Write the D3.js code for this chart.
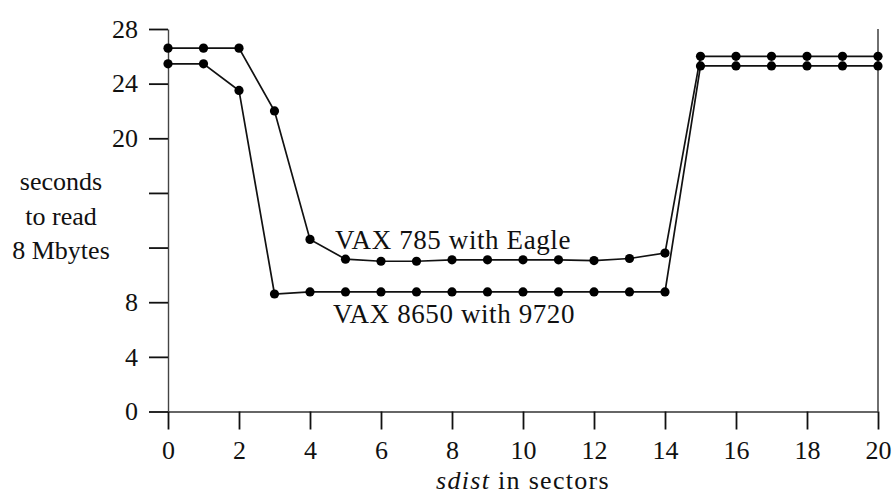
<!DOCTYPE html>
<html><head><meta charset="utf-8">
<script src="https://cdn.jsdelivr.net/npm/d3@7"></script>
<style>body{margin:0;background:#fff}svg{display:block}</style>
</head><body>
<svg id="c" width="895" height="498" font-family="Liberation Serif, serif"></svg>
<script>
const sdist = [0,1,2,3,4,5,6,7,8,9,10,11,12,13,14,15,16,17,18,19,20];
const eagle = [26.6,26.6,26.6,22.0,12.6,11.15,11.0,11.0,11.1,11.1,11.1,11.1,11.05,11.2,11.6,26.0,26.0,26.0,26.0,26.0,26.0];
const vax8650 = [25.45,25.45,23.5,8.6,8.75,8.75,8.75,8.75,8.75,8.75,8.75,8.75,8.75,8.75,8.75,25.3,25.3,25.3,25.3,25.3,25.3];
const xTicks = [0,2,4,6,8,10,12,14,16,18,20];
const yTicks = [0,4,8,12,16,20,24,28];
const yLabels = {0:"0",4:"4",8:"8",20:"20",24:"24",28:"28"};
const seriesNames = ["VAX 785 with Eagle","VAX 8650 with 9720"];
const yTitle = ["seconds","to read","8 Mbytes"];
const FONT = "Liberation Serif";

const svg = d3.select("#c");
const x = d3.scaleLinear().domain([0,20]).range([168,878]);
const y = d3.scaleLinear().domain([0,28]).range([411.5,29]);

const ax = svg.append("g").attr("transform","translate(0,411.5)")
  .call(d3.axisBottom(x).tickValues(xTicks).tickSizeInner(18).tickSizeOuter(0).tickPadding(11));
ax.attr("font-family",FONT).attr("font-size",26);
ax.select(".domain").attr("stroke","#333").attr("stroke-width",1.6);
ax.selectAll(".tick line").attr("stroke","#111").attr("stroke-width",1.8);
ax.selectAll(".tick text").attr("fill","#111");

const ay = svg.append("g").attr("transform","translate(168,0)")
  .call(d3.axisLeft(y).tickValues(yTicks).tickFormat(d=>yLabels[d]||"").tickSizeInner(19).tickSizeOuter(0).tickPadding(11));
ay.attr("font-family",FONT).attr("font-size",26);
ay.select(".domain").attr("stroke","#444").attr("stroke-width",1.4);
ay.selectAll(".tick line").attr("stroke","#111").attr("stroke-width",1.8);
ay.selectAll(".tick text").attr("fill","#111");

svg.append("line").attr("x1",x(20)).attr("x2",x(20)).attr("y1",y(28)).attr("y2",y(0))
  .attr("stroke","#333").attr("stroke-width",1.4);

const line = d3.line().x((d,i)=>x(sdist[i])).y(d=>y(d));
[eagle, vax8650].forEach(s=>{
  svg.append("path").attr("d",line(s)).attr("fill","none").attr("stroke","#111").attr("stroke-width",1.7);
  svg.append("g").selectAll("circle").data(s).join("circle")
    .attr("cx",(d,i)=>x(sdist[i])).attr("cy",d=>y(d)).attr("r",4.6).attr("fill","#000");
});

const T = (sel)=>sel.attr("font-family",FONT).attr("fill","#111");
T(svg.append("text")).attr("x",335).attr("y",249).attr("font-size",27).attr("letter-spacing",0.6).text(seriesNames[0]);
T(svg.append("text")).attr("x",333).attr("y",323).attr("font-size",27).attr("letter-spacing",0.6).text(seriesNames[1]);

T(svg.append("text")).attr("x",61).attr("y",190).attr("text-anchor","middle").attr("font-size",26)
  .selectAll("tspan").data(yTitle).join("tspan").attr("x",61).attr("dy",(d,i)=>i?34.5:0).text(d=>d);

const xt = T(svg.append("text")).attr("x",523).attr("y",489).attr("text-anchor","middle").attr("font-size",26).attr("letter-spacing",1.3);
xt.append("tspan").attr("font-style","italic").text("sdist");
xt.append("tspan").text(" in sectors");
</script>
</body></html>
